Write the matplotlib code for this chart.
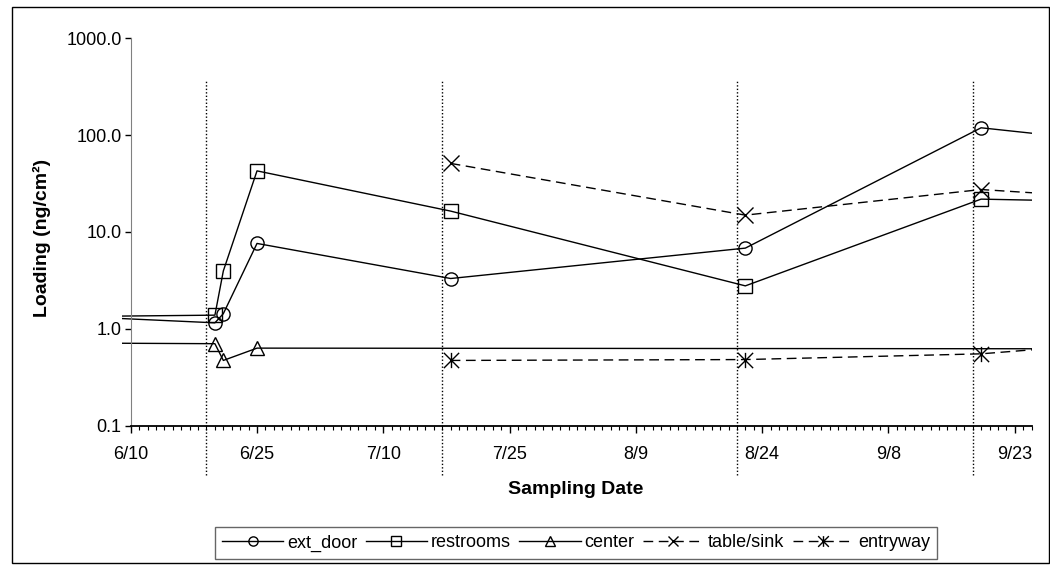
import matplotlib
matplotlib.use("Agg")
import matplotlib.pyplot as plt
from matplotlib.path import Path
from matplotlib.patches import Rectangle
from datetime import date

plt.rcParams['font.family'] = ['Liberation Sans', 'DejaVu Sans']

# sampling data (off-chart points keep the lines running to the plot edges)
door_dates = ['6/5', '6/20', '6/21', '6/25', '7/18', '8/22', '9/19', '10/1']
door_vals = [1.32, 1.15, 1.43, 7.6, 3.3, 6.8, 119, 92]

rest_dates = ['6/5', '6/20', '6/21', '6/25', '7/18', '8/22', '9/19', '10/1']
rest_vals = [1.34, 1.38, 3.95, 42.7, 16.4, 2.77, 21.8, 20.8]

center_dates = ['6/5', '6/20', '6/21', '6/25', '10/1']
center_vals = [0.71, 0.70, 0.47, 0.63, 0.62]

table_dates = ['7/18', '8/22', '9/19', '10/1']
table_vals = [51, 14.9, 27.4, 23.5]

entry_dates = ['7/18', '8/22', '9/19', '10/1']
entry_vals = [0.47, 0.48, 0.55, 0.665]

event_dates = ['6/19', '7/17', '8/21', '9/18']
xtick_labels = ['6/10', '6/25', '7/10', '7/25', '8/9', '8/24', '9/8', '9/23']
ytick_vals = [0.1, 1, 10, 100, 1000]
ytick_labels = ['0.1', '1.0', '10.0', '100.0', '1000.0']


def day(s):
    m, d = map(int, s.split('/'))
    return (date(2000, m, d) - date(2000, 6, 10)).days


W, H = 1050, 565
fig = plt.figure(figsize=(W / 100, H / 100), dpi=100)

left, right, top, bottom = 122.3, 1031.6, 38.3, 425.5
ax = fig.add_axes([left / W, 1 - bottom / H, (right - left) / W, (bottom - top) / H])

star = Path([(0, -1), (0, 1), (-1, -1), (1, 1), (-1, 1), (1, -1)],
            [Path.MOVETO, Path.LINETO] * 3)

common = dict(color='black', lw=1.0, mfc='none', mec='black', mew=1.0)
ax.plot([day(d) for d in door_dates], door_vals, marker='o', ms=9.5, ls='-',
        label='ext_door', **common)
ax.plot([day(d) for d in rest_dates], rest_vals, marker='s', ms=9.5, ls='-',
        label='restrooms', **common)
ax.plot([day(d) for d in center_dates], center_vals, marker='^', ms=10, ls='-',
        label='center', **common)
ax.plot([day(d) for d in table_dates], table_vals, marker='x', ms=11, ls=(0, (7, 4)),
        label='table/sink', **common)
ax.plot([day(d) for d in entry_dates], entry_vals, marker=star, ms=11, ls=(0, (7, 4)),
        label='entryway', **common)

for d in event_dates:
    ax.axvline(day(d), ymin=-0.128, ymax=0.892, color='black', lw=1.0,
               ls=(0, (1, 1.5)), clip_on=False)

ax.set_yscale('log')
ax.set_ylim(0.1, 1000)
ax.set_xlim(-1, 107)
ax.set_yticks(ytick_vals, ytick_labels)
ax.yaxis.set_minor_locator(plt.NullLocator())
ax.set_xticks([day(t) for t in xtick_labels], xtick_labels)
ax.set_xticks(range(0, 108), minor=True)

ax.spines['top'].set_visible(False)
ax.spines['right'].set_visible(False)
ax.spines['left'].set_position(('data', 0))
ax.spines['left'].set_color('#808080')
ax.spines['bottom'].set_bounds(0, 107)
ax.spines['bottom'].set_linewidth(1.3)

ax.tick_params(axis='y', which='major', length=4.5, width=1, pad=2, labelsize=13)
ax.tick_params(axis='x', which='major', length=5, width=1, pad=10, labelsize=13)
ax.tick_params(axis='x', which='minor', length=3, width=0.8)

fig.text(576 / W, 1 - 490 / H, 'Sampling Date', ha='center', va='center',
         fontsize=14, fontweight='bold')
fig.text(42 / W, 1 - 238 / H, 'Loading (ng/cm²)', ha='center', va='center',
         rotation=90, fontsize=14, fontweight='bold')

leg = ax.legend(loc='center', bbox_to_anchor=(576 / W, 1 - 543 / H),
                bbox_transform=fig.transFigure, ncol=5, fontsize=13,
                handlelength=3.4, handletextpad=0.22, columnspacing=0.45,
                markerscale=0.7, frameon=True, fancybox=False, borderpad=0.4)
leg.get_frame().set_edgecolor('#404040')
leg.get_frame().set_linewidth(1.0)

fig.add_artist(Rectangle((11.5 / W, 1 - 562.5 / H), 1037 / W, 556 / H,
                         transform=fig.transFigure, fill=False,
                         edgecolor='black', lw=1.0))

fig.savefig('out.png', dpi=100)
